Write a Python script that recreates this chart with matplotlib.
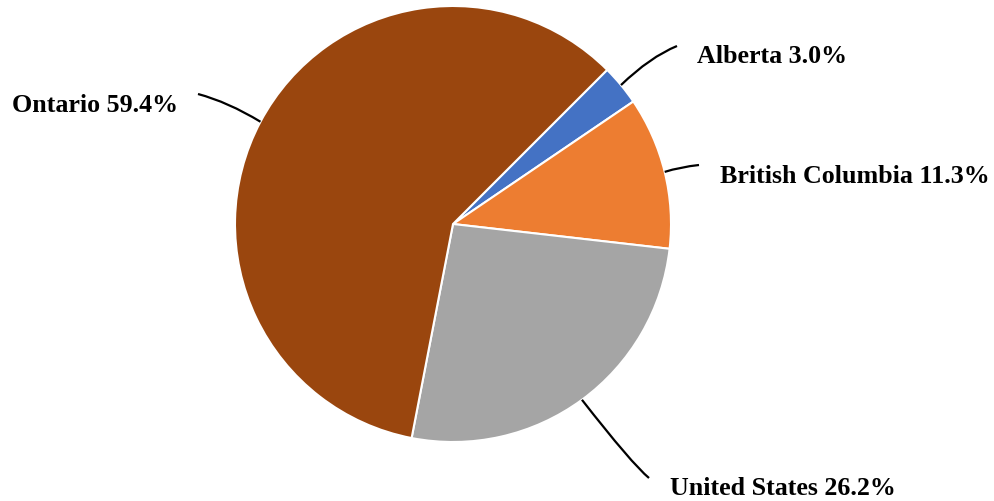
import numpy as np
import matplotlib
matplotlib.use("Agg")
import matplotlib.pyplot as plt
from matplotlib.path import Path
from matplotlib.patches import PathPatch

# Share of total by region (%)
regions = ["Alberta", "British Columbia", "United States", "Ontario"]
shares = [3.0, 11.3, 26.2, 59.4]
colors = ["#4472C4", "#ED7D31", "#A5A5A5", "#9A460E"]

W, H = 994, 502
fig = plt.figure(figsize=(W / 100, H / 100), dpi=100)
ax = fig.add_axes([0, 0, 1, 1])
ax.set_xlim(0, W)
ax.set_ylim(0, H)
ax.set_aspect("equal")
ax.axis("off")

cx, cy, r = 453, H - 225, 218
wedges, _ = ax.pie(shares, colors=colors, startangle=45, counterclock=False,
                   center=(cx, cy), radius=r, frame=True,
                   wedgeprops=dict(edgecolor="white", linewidth=1.5))
ax.set_xlim(0, W)
ax.set_ylim(0, H)
ax.axis("off")

# label placement: (text left x, baseline y from top, leader end, leader control)
label_layout = {
    "Alberta": ((697, 63), (677, 47), (650, 58)),
    "British Columbia": ((720, 183), (699, 166), (680, 168)),
    "United States": ((670, 495), (649, 479), (632, 465)),
    "Ontario": ((12, 112), (198, 95), (228, 103)),
}

font = dict(family=["Liberation Serif", "DejaVu Serif"], weight="bold",
            size=18.7, color="black")

for w, name, val in zip(wedges, regions, shares):
    mid = np.deg2rad((w.theta1 + w.theta2) / 2)
    sx, sy = cx + r * np.cos(mid), cy + r * np.sin(mid)
    (tx, ty), (ex, ey), (kx, ky) = label_layout[name]
    path = Path([(sx, sy), (kx, H - ky), (ex, H - ey)],
                [Path.MOVETO, Path.CURVE3, Path.CURVE3])
    ax.add_patch(PathPatch(path, fill=False, edgecolor="black", linewidth=1.6))
    ax.text(tx, H - ty, f"{name} {val:.1f}%", ha="left", va="baseline", **font)

fig.savefig("out.png", dpi=100, facecolor="white")
